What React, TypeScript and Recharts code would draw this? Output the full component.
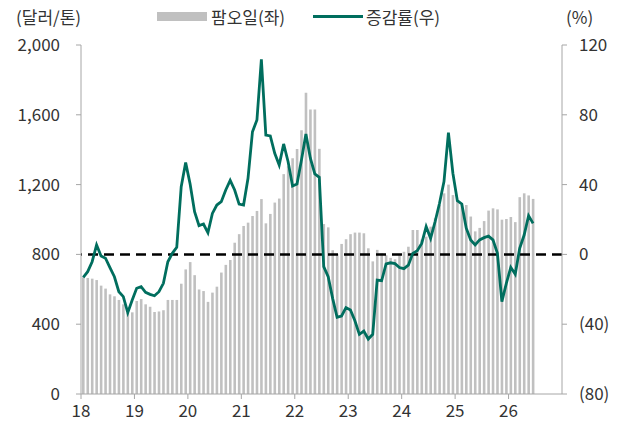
import { ComposedChart, Bar, Line, XAxis, YAxis, ReferenceLine } from 'recharts'

// palm oil price, USD/t, monthly
const price18 = [669, 665, 661, 653, 621, 604, 571, 560, 539, 514, 464, 468]
const price19 = [533, 544, 514, 500, 470, 473, 480, 539, 539, 539, 632, 714]
const price20 = [756, 681, 599, 590, 528, 581, 615, 696, 740, 768, 867, 916]
const price21 = [963, 982, 1020, 1049, 1117, 978, 1032, 1097, 1120, 1260, 1305, 1351]
const price22 = [1404, 1511, 1727, 1631, 1631, 1405, 974, 955, 824, 802, 860, 887]
const price23 = [916, 925, 925, 921, 835, 760, 826, 806, 795, 780, 772, 800]
const price24 = [815, 844, 940, 940, 885, 902, 959, 1007, 1083, 1150, 1200, 1140]
const price25 = [1112, 1090, 1083, 1017, 932, 952, 991, 1051, 1064, 1058, 999, 1003]
const price26 = [1015, 985, 1128, 1150, 1138, 1118]

// growth rate, %
const growth18 = [-13.1, -9.9, -4.2, 5.4, -0.9, -2.2, -7.6, -12.8, -21.4, -24.2, -33.4, -26.1]
const growth19 = [-19.4, -18.5, -21.7, -22.9, -23.7, -21.4, -16.6, -4.2, 0.6, 4.1, 38.8, 52.6]
const growth20 = [40.3, 24.5, 16.5, 17.4, 12.4, 23.5, 28.3, 30.2, 36.9, 42.4, 36.9, 28.8]
const growth21 = [28.3, 43.6, 70.3, 77.0, 111.8, 68.4, 67.9, 57.9, 51.2, 63.3, 53.1, 39.2]
const growth22 = [40.3, 54.1, 69.0, 55.1, 46.1, 44.2, -7.0, -12.8, -25.2, -36.0, -35.3, -30.5]
const growth23 = [-31.9, -38.0, -45.8, -43.9, -48.5, -45.8, -14.7, -15.1, -5.5, -4.8, -5.3, -7.5]
const growth24 = [-8.2, -6.2, 0.6, 2.1, 6.3, 15.9, 9.2, 18.7, 29.3, 41.7, 69.8, 46.5]
const growth25 = [30.8, 28.9, 15.0, 8.3, 5.4, 8.3, 9.6, 10.5, 8.3, 0.6, -27.1, -16.6]
const growth26 = [-7.4, -11.4, 3.5, 11.1, 22.2, 17.8]

const yearLabels = ['18', '19', '20', '21', '22', '23', '24', '25', '26']
const leftTicks = [0, 400, 800, 1200, 1600, 2000]
const rightTicks = [-80, -40, 0, 40, 80, 120]

const prices = [
  ...price18, ...price19, ...price20, ...price21, ...price22,
  ...price23, ...price24, ...price25, ...price26,
]
const growth = [
  ...growth18, ...growth19, ...growth20, ...growth21, ...growth22,
  ...growth23, ...growth24, ...growth25, ...growth26,
]

const data = prices.map((p, i) => ({ x: i + 0.5, price: p, growth: growth[i] }))
const xTicks = yearLabels.map((_, i) => i * 12)

const FONT = '"Noto Sans CJK KR", "Noto Sans", sans-serif'
const AXIS = '#a6a6a6'
const TEXT = '#333'
const TEAL = '#006e5e'

export default function App() {
  return (
    <div
      style={{
        position: 'absolute',
        left: 0,
        top: 0,
        width: 624,
        height: 421,
        background: '#fff',
        fontFamily: FONT,
        color: TEXT,
      }}
    >
      <div style={{ position: 'absolute', left: 16, top: 4, fontSize: 17 }}>(달러/톤)</div>
      <div style={{ position: 'absolute', left: 566, top: 4, fontSize: 17 }}>(%)</div>
      <div
        style={{
          position: 'absolute',
          left: 157,
          top: 4,
          display: 'flex',
          alignItems: 'center',
          fontSize: 17,
        }}
      >
        <span style={{ display: 'inline-block', width: 50, height: 9, background: '#c0c0c0' }} />
        <span style={{ marginLeft: 4 }}>팜오일(좌)</span>
        <span
          style={{ display: 'inline-block', width: 50, height: 3, background: TEAL, marginLeft: 28 }}
        />
        <span style={{ marginLeft: 3 }}>증감률(우)</span>
      </div>
      <ComposedChart
        width={624}
        height={421}
        data={data}
        margin={{ top: 45, right: 0, bottom: 0, left: 0 }}
      >
        <XAxis
          dataKey="x"
          type="number"
          domain={[0, 108]}
          ticks={xTicks}
          tickFormatter={(v: number) => yearLabels[v / 12]}
          height={27}
          stroke={AXIS}
          tickSize={5}
          tickMargin={6}
          tick={{ fill: TEXT, fontSize: 17, fontFamily: FONT }}
          allowDataOverflow
        />
        <YAxis
          yAxisId="left"
          domain={[0, 2000]}
          ticks={leftTicks}
          width={81}
          stroke={AXIS}
          tickSize={5}
          tickMargin={16}
          tickFormatter={(v: number) => v.toLocaleString('en-US')}
          tick={{ fill: TEXT, fontSize: 17, fontFamily: FONT }}
        />
        <YAxis
          yAxisId="right"
          orientation="right"
          domain={[-80, 120]}
          ticks={rightTicks}
          width={62}
          stroke={AXIS}
          tickSize={5}
          tickMargin={12}
          tickFormatter={(v: number) => (v < 0 ? `(${-v})` : String(v))}
          tick={{ fill: TEXT, fontSize: 17, fontFamily: FONT }}
        />
        <Bar
          yAxisId="left"
          dataKey="price"
          fill="#c0c0c0"
          barSize={2.6}
          isAnimationActive={false}
        />
        <ReferenceLine
          yAxisId="right"
          y={0}
          stroke="#000"
          strokeWidth={2.5}
          strokeDasharray="10 6"
        />
        <Line
          yAxisId="right"
          dataKey="growth"
          type="linear"
          stroke={TEAL}
          strokeWidth={2.8}
          dot={false}
          isAnimationActive={false}
        />
      </ComposedChart>
    </div>
  )
}
